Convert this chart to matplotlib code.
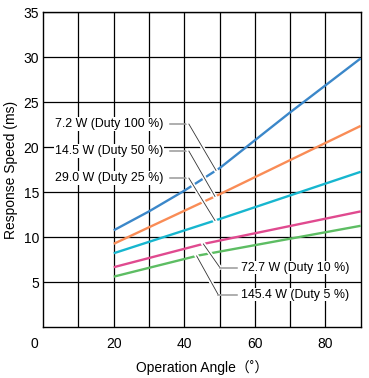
import matplotlib
matplotlib.use("Agg")
import matplotlib.pyplot as plt
import matplotlib.patheffects as pe
import numpy as np

plt.rcParams['font.family'] = ['Liberation Sans', 'Noto Sans CJK JP', 'DejaVu Sans']

# data
blue_x = [20, 30, 40, 50, 60, 70, 80, 90]
blue_y = [10.8, 12.9, 15.2, 17.7, 20.8, 23.9, 26.9, 29.9]
orange_x = [20, 50, 90]
orange_y = [9.3, 14.8, 22.4]
cyan_x = [20, 50, 90]
cyan_y = [8.25, 12.05, 17.3]
pink_x = [20, 45, 90]
pink_y = [6.7, 9.25, 12.9]
green_x = [20, 44, 90]
green_y = [5.65, 8.0, 11.3]

labels = ["7.2 W (Duty 100 %)", "14.5 W (Duty 50 %)", "29.0 W (Duty 25 %)",
          "72.7 W (Duty 10 %)", "145.4 W (Duty 5 %)"]
colors = ['#3b87c9', '#f98c56', '#17b6cf', '#e04a8f', '#5dbd63']

series = [(blue_x, blue_y), (orange_x, orange_y), (cyan_x, cyan_y),
          (pink_x, pink_y), (green_x, green_y)]

fig = plt.figure(figsize=(3.69, 3.78), dpi=100)
ax = fig.add_axes([0.117, 0.1336, 0.8605, 0.8334])

for (xs, ys), c in zip(series, colors):
    ax.plot(xs, ys, color=c, lw=1.7, solid_capstyle='butt', zorder=3)

# leader lines + labels
white = [pe.withStroke(linewidth=3, foreground='white')]
upper = [(22.6, 49.0), (19.6, 48.7), (16.6, 48.7)]
for i, (ty, ax_x) in enumerate(upper):
    xs, ys = series[i]
    py = np.interp(ax_x, xs, ys)
    ax.plot([35.9, 41.3], [ty, ty], color='#999999', lw=1.1, zorder=4)
    ax.plot([41.3, ax_x], [ty, py], color='#333333', lw=0.6, zorder=4,
            path_effects=white)
    ax.text(34.0, ty, labels[i], ha='right', va='center', fontsize=8.9,
            zorder=5, bbox=dict(facecolor='white', edgecolor='none', pad=0.5))

lower = [(6.65, 45.4, 50.1), (3.65, 43.5, 49.6)]
for j, (ty, ax_x, bx) in enumerate(lower):
    xs, ys = series[3 + j]
    py = np.interp(ax_x, xs, ys)
    ax.plot([ax_x, bx], [py, ty], color='#333333', lw=0.6, zorder=4,
            path_effects=white)
    ax.plot([bx, 55.0], [ty, ty], color='#999999', lw=1.1, zorder=4)
    ax.text(56.2, ty, labels[3 + j], ha='left', va='center', fontsize=8.9,
            zorder=5, bbox=dict(facecolor='white', edgecolor='none', pad=0.5))

ax.set_xlim(0, 90)
ax.set_ylim(0, 35)
ax.set_xticks(range(10, 90, 10))
ax.set_xticklabels(['', '20', '', '40', '', '60', '', '80'])
ax.set_yticks(range(5, 36, 5))
ax.grid(True, color='black', lw=0.9, zorder=1)
ax.tick_params(length=0, labelsize=10)
ax.tick_params(axis='x', pad=7)
ax.tick_params(axis='y', pad=3)
for s in ax.spines.values():
    s.set_linewidth(1.0)
ax.annotate('0', xy=(0, 0), xytext=(-6, -7), textcoords='offset points',
            ha='center', va='top', fontsize=10)

ax.set_xlabel('Operation Angle（˚）', fontsize=10, labelpad=6,
              family=['Liberation Sans', 'Noto Sans CJK JP'])
ax.set_ylabel('Response Speed (ms)', fontsize=10, labelpad=4)

fig.savefig('out.png', dpi=100)
